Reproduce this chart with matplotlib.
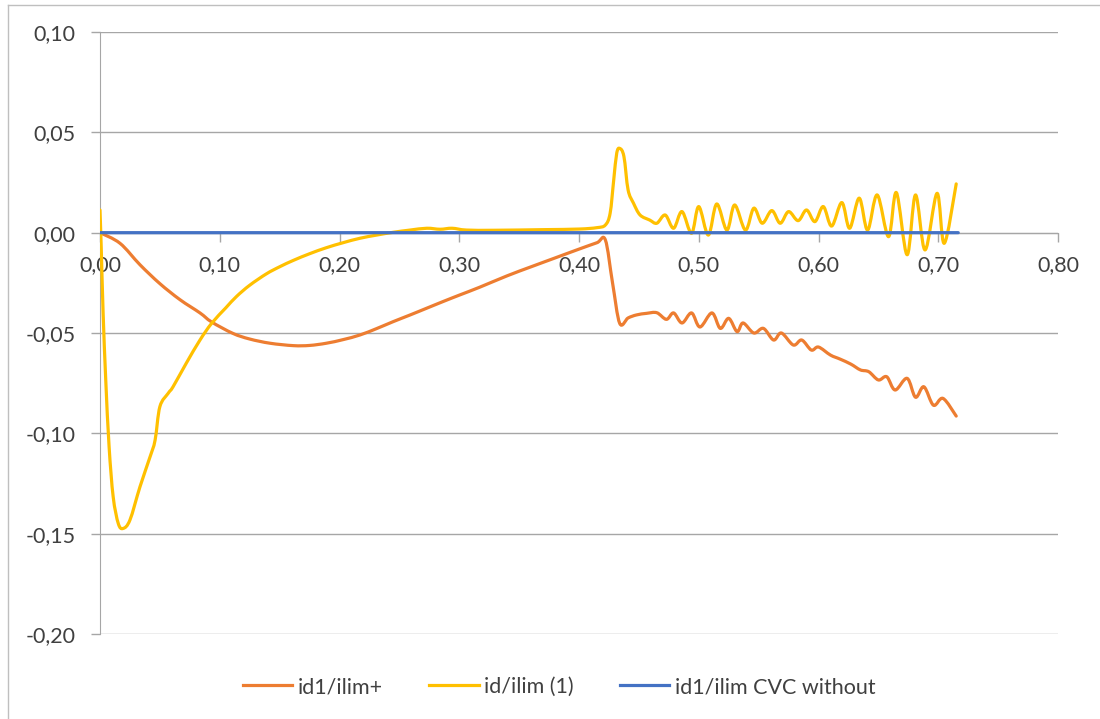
import numpy as np
import matplotlib.pyplot as plt
from matplotlib.lines import Line2D
from matplotlib.path import Path
from matplotlib.patches import PathPatch
from matplotlib.ticker import FuncFormatter, MultipleLocator

plt.rcParams['font.family'] = ['Lato', 'DejaVu Sans']

# id1/ilim+ (оранжевая)
x_plus = [0.0, 0.0167, 0.0334, 0.050, 0.0668, 0.0835, 0.0932, 0.111, 0.125, 0.142,
          0.1615, 0.175, 0.189, 0.203, 0.217, 0.231, 0.245, 0.259, 0.273, 0.287, 0.3006,
          0.317, 0.34, 0.36, 0.38, 0.40, 0.415, 0.422, 0.428,
          0.434, 0.441, 0.448, 0.4565, 0.465, 0.473, 0.479, 0.486, 0.494, 0.501, 0.511,
          0.518, 0.525, 0.532, 0.537, 0.546, 0.554, 0.5625, 0.569, 0.579, 0.586, 0.594,
          0.600, 0.610, 0.618, 0.627, 0.635, 0.642, 0.650, 0.657, 0.664, 0.674, 0.681,
          0.688, 0.696, 0.704, 0.715]
y_plus = [0.0, -0.0053, -0.0160, -0.0254, -0.0334, -0.0400, -0.0445, -0.0502, -0.0530, -0.0551,
          -0.0563, -0.0562, -0.0551, -0.0533, -0.051, -0.0478, -0.0443, -0.041, -0.0376, -0.0342, -0.031,
          -0.0272, -0.0215, -0.017, -0.0126, -0.0082, -0.0050, -0.0036, -0.025,
          -0.0452, -0.0425, -0.041, -0.0402, -0.0399, -0.0432, -0.040, -0.045, -0.040, -0.047, -0.040,
          -0.0477, -0.0427, -0.0493, -0.045, -0.050, -0.0477, -0.0535, -0.050, -0.056, -0.0535, -0.0585,
          -0.057, -0.061, -0.063, -0.0655, -0.0684, -0.0693, -0.0734, -0.0718, -0.0784, -0.0726, -0.082,
          -0.0768, -0.086, -0.0826, -0.0914]

# id/ilim (1) (жёлтая)
x_one = [0.0, 0.001, 0.0026, 0.0048, 0.0076, 0.011, 0.0153, 0.0193, 0.025, 0.0334,
         0.0418, 0.046, 0.050, 0.057, 0.061, 0.072, 0.0835, 0.0932, 0.105, 0.114,
         0.125, 0.139, 0.150, 0.1615, 0.175, 0.189, 0.203, 0.217, 0.231, 0.245, 0.259,
         0.273, 0.284, 0.294, 0.306, 0.33,
         0.37, 0.40, 0.415, 0.422, 0.426, 0.429, 0.4315, 0.434, 0.4375, 0.441, 0.4455,
         0.451, 0.459, 0.465, 0.472, 0.479, 0.486, 0.494, 0.500, 0.508, 0.515, 0.5235,
         0.530, 0.539, 0.546, 0.553, 0.561, 0.568, 0.575, 0.583, 0.590, 0.597, 0.604,
         0.611, 0.6195, 0.626, 0.634, 0.641, 0.649, 0.6585, 0.665, 0.674, 0.681, 0.689,
         0.699, 0.705, 0.715]
y_one = [0.0113, -0.007, -0.040, -0.0734, -0.1067, -0.1316, -0.145, -0.1474, -0.1432, -0.1266,
         -0.1117, -0.1034, -0.0867, -0.080, -0.0768, -0.0651, -0.0535, -0.0452, -0.0375, -0.0318,
         -0.0262, -0.0205, -0.0170, -0.0138, -0.0105, -0.0075, -0.005, -0.0028, -0.0012, 0.0002, 0.0013,
         0.0022, 0.0017, 0.0022, 0.0013, 0.0012,
         0.0015, 0.0018, 0.0025, 0.0038, 0.0097, 0.0263, 0.0396, 0.042, 0.038, 0.0213, 0.0147,
         0.0088, 0.0063, 0.0047, 0.0088, 0.0022, 0.0105, -0.0003, 0.013, -0.0012, 0.0143, 0.0013,
         0.0138, 0.0013, 0.0122, 0.0047, 0.011, 0.0047, 0.0105, 0.006, 0.0113, 0.0055, 0.013,
         0.0033, 0.015, 0.0022, 0.0172, 0.0013, 0.0188, -0.002, 0.020, -0.011, 0.0188, -0.0086,
         0.0196, -0.0053, 0.0243]

# id1/ilim CVC without (синяя)
x_cvc = [0.0, 0.10, 0.20, 0.30, 0.40, 0.50, 0.60, 0.70, 0.7167]
y_cvc = [0.0, 0.0, 0.0, 0.0, 0.0, 0.0, 0.0, 0.0, 0.0]

labels = ['id1/ilim+', 'id/ilim (1)', 'id1/ilim CVC without']
colors = ['#ED7D31', '#FFC000', '#4472C4']


def smooth_path(x, y):
    # сглаженная линия как в Excel: кривые Безье через точки (Catmull-Rom)
    p = np.column_stack([x, y]).astype(float)
    n = len(p)
    verts = [p[0]]
    codes = [Path.MOVETO]
    for i in range(n - 1):
        p0 = p[i - 1] if i > 0 else p[i]
        p1, p2 = p[i], p[i + 1]
        p3 = p[i + 2] if i + 2 < n else p[i + 1]
        verts += [p1 + (p2 - p0) / 6, p2 - (p3 - p1) / 6, p2]
        codes += [Path.CURVE4] * 3
    return Path(verts, codes)


fig = plt.figure(figsize=(11, 7.19), dpi=100)
ax = fig.add_axes([100 / 1100, 1 - 634 / 719, 958 / 1100, 602 / 719])

series = [(x_plus, y_plus), (x_one, y_one), (x_cvc, y_cvc)]
for (xs, ys), c, z in zip(series, colors, [3, 3, 4]):
    ax.add_patch(PathPatch(smooth_path(xs, ys), facecolor='none', edgecolor=c, lw=2.3,
                           capstyle='round', joinstyle='round', zorder=z))

ax.set_xlim(0, 0.8)
ax.set_ylim(-0.2, 0.1)
ax.xaxis.set_major_locator(MultipleLocator(0.1))
ax.yaxis.set_major_locator(MultipleLocator(0.05))
fmt = FuncFormatter(lambda v, p: f'{v:.2f}'.replace('.', ',').replace('-0,00', '0,00'))
ax.xaxis.set_major_formatter(fmt)
ax.yaxis.set_major_formatter(fmt)

ax.grid(axis='y', color='#A6A6A6', lw=1)
ax.set_axisbelow(True)
for s in ['top', 'right']:
    ax.spines[s].set_visible(False)
ax.spines['bottom'].set_position(('data', 0))
ax.spines['bottom'].set_color('#A6A6A6')
ax.spines['left'].set_color('#A6A6A6')
ax.tick_params(axis='both', colors='#A6A6A6', labelcolor='#404040', labelsize=15.5,
               length=6.5, width=1, pad=10)
ax.tick_params(axis='y', pad=11)

handles = [Line2D([], [], color=c, lw=2.3) for c in colors]
fig.legend(handles, labels, loc='center', bbox_to_anchor=(559 / 1100, 1 - 687 / 719), ncol=3,
           frameon=False, fontsize=15.5, handlelength=2.3, columnspacing=2.15,
           handletextpad=0.25, labelcolor='#404040')

# рамка области диаграммы
fig.add_artist(Line2D([8 / 1100, 8 / 1100], [0, 1 - 5 / 719], color='#BFBFBF', lw=1))
fig.add_artist(Line2D([8 / 1100, 1], [1 - 5 / 719, 1 - 5 / 719], color='#BFBFBF', lw=1))

fig.savefig('out.png', dpi=100)
